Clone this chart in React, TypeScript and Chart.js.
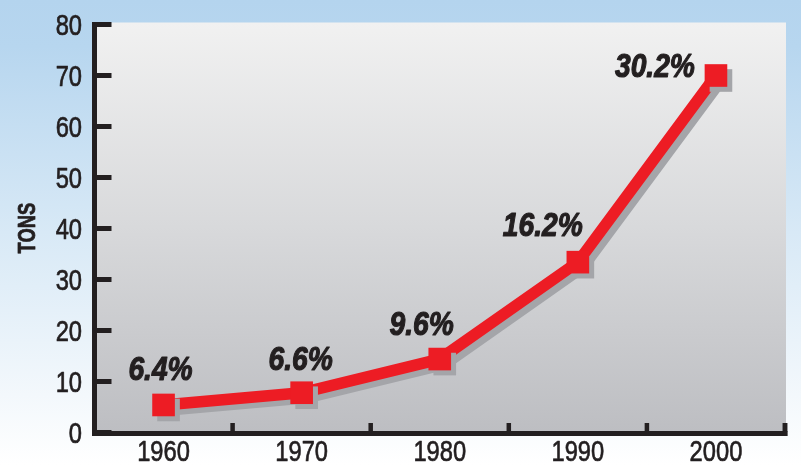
import { useEffect, useRef } from "react";
import { Chart, registerables } from "chart.js";

Chart.register(...registerables);

// Decades along the bottom axis
const years = ["1960", "1970", "1980", "1990", "2000"];
// Tonnage per decade
const tons = [5.4, 7.8, 14.4, 33.4, 70];
// Share annotations printed next to each point
const shareLabels = ["6.4%", "6.6%", "9.6%", "16.2%", "30.2%"];
// Vertical axis range
const yMin = 0;
const yMax = 80;
const yStep = 10;

const INK = "#231F20";
const RED = "#ED1C24";
const FACE = "'Liberation Sans', Arial, sans-serif";

// Where each share annotation sits relative to its point (glyph centre offset)
const LABEL_NUDGE: { dx: number; dy: number; align: CanvasTextAlign }[] = [
  { dx: -3, dy: -37, align: "center" },
  { dx: -1, dy: -35, align: "center" },
  { dx: -18, dy: -36, align: "center" },
  { dx: -35, dy: -38, align: "center" },
  { dx: -21, dy: -11, align: "right" },
];

// Condensed lettering: a normal face squeezed horizontally, placed by its cap-height centre,
// with an optional outline in the same ink to make it heavier
function squeezedText(
  ctx: CanvasRenderingContext2D,
  text: string,
  x: number,
  cy: number,
  style: string,
  size: number,
  sx: number,
  align: CanvasTextAlign,
  weight = 0
) {
  ctx.save();
  ctx.translate(x, cy + 0.358 * size);
  ctx.scale(sx, 1);
  ctx.font = `${style} ${size}px ${FACE}`;
  ctx.textAlign = align;
  ctx.textBaseline = "alphabetic";
  ctx.fillStyle = INK;
  ctx.fillText(text, 0, 0);
  if (weight > 0) {
    ctx.strokeStyle = INK;
    ctx.lineWidth = weight;
    ctx.lineJoin = "round";
    ctx.strokeText(text, 0, 0);
  }
  ctx.restore();
}

const backdrop = {
  id: "backdrop",
  beforeDraw(chart: Chart) {
    const { ctx, width, height, chartArea: a } = chart;
    ctx.save();
    const sky = ctx.createLinearGradient(0, 0, 0, height);
    sky.addColorStop(0, "#B4D4EE");
    sky.addColorStop(0.1, "#B7D6EF");
    sky.addColorStop(0.5, "#D8E9F6");
    sky.addColorStop(0.85, "#F3F8FC");
    sky.addColorStop(1, "#FFFFFF");
    ctx.fillStyle = sky;
    ctx.fillRect(0, 0, width, height);

    const top = a.top - 2;
    const bottom = a.bottom - 1;
    const panel = ctx.createLinearGradient(0, top, 0, bottom);
    panel.addColorStop(0, "#F1F1F1");
    panel.addColorStop(0.5, "#D8D9DB");
    panel.addColorStop(1, "#BDBEC2");
    ctx.fillStyle = panel;
    ctx.fillRect(a.left, top, a.right + 1 - a.left, bottom - top);
    ctx.restore();
  },
};

const frame = {
  id: "frame",
  beforeDatasetsDraw(chart: Chart) {
    const { ctx, chartArea: a } = chart;
    const xs = chart.scales.x;
    const ys = chart.scales.y;
    ctx.save();
    ctx.fillStyle = INK;
    const topY = ys.getPixelForValue(yMax) - 2.5;
    const axisX = a.left;
    // vertical axis line
    ctx.fillRect(axisX - 2.5, topY, 5, a.bottom + 3.5 - topY);
    // inward value ticks and their labels
    ys.ticks.forEach((t, i) => {
      const py = ys.getPixelForTick(i);
      ctx.fillStyle = INK;
      ctx.fillRect(axisX, py - 2.5, 17, 5);
      squeezedText(ctx, String(t.label), axisX - 12.5, py, "normal", 30, 0.79, "right", 0.7);
    });
    ctx.fillStyle = INK;
    // horizontal axis line
    ctx.fillRect(axisX - 2.5, a.bottom - 1.5, a.right + 2.5 - (axisX - 2.5), 5);
    // upward ticks between categories
    years.forEach((_y, i) => {
      const px = xs.getPixelForValue(i + 0.5);
      ctx.fillRect(px - 2.25, a.bottom - 9.5, 4.5, 9);
    });
    ctx.fillRect(a.right - 2.25, a.bottom - 9.5, 4.5, 13);
    // category labels
    xs.ticks.forEach((t, i) => {
      const px = xs.getPixelForTick(i);
      squeezedText(ctx, String(t.label), px, a.bottom + 17.5, "normal", 30, 0.79, "center", 0.7);
    });

    // axis title
    ctx.save();
    ctx.translate(27, 228);
    ctx.rotate(-Math.PI / 2);
    squeezedText(ctx, "TONS", 0, 0, "bold", 23, 0.8, "center", 0.8);
    ctx.restore();
    ctx.restore();
  },
};

const dropShadow = {
  id: "dropShadow",
  beforeDatasetDraw(chart: Chart) {
    const { ctx } = chart;
    ctx.save();
    ctx.shadowColor = "#A4A5A9";
    ctx.shadowOffsetX = 5;
    ctx.shadowOffsetY = 5;
    ctx.shadowBlur = 0;
  },
  afterDatasetDraw(chart: Chart) {
    chart.ctx.restore();
  },
};

const shareTags = {
  id: "shareTags",
  afterDatasetsDraw(chart: Chart) {
    const { ctx } = chart;
    const meta = chart.getDatasetMeta(0);
    meta.data.forEach((pt, i) => {
      const n = LABEL_NUDGE[i];
      squeezedText(ctx, shareLabels[i], pt.x + n.dx, pt.y + n.dy, "italic bold", 34, 0.83, n.align, 1.2);
    });
  },
};

export default function App() {
  const canvasRef = useRef<HTMLCanvasElement | null>(null);

  useEffect(() => {
    const canvas = canvasRef.current;
    if (!canvas) return;
    const chart = new Chart(canvas, {
      type: "line",
      data: {
        labels: years,
        datasets: [
          {
            data: tons,
            borderColor: RED,
            backgroundColor: RED,
            borderWidth: 11.5,
            borderJoinStyle: "miter",
            pointStyle: "rect",
            pointRadius: 16,
            pointHoverRadius: 16,
            pointBackgroundColor: RED,
            pointBorderWidth: 0,
            tension: 0,
            clip: false,
          },
        ],
      },
      options: {
        responsive: false,
        animation: false,
        devicePixelRatio: 1,
        layout: { padding: { top: 24.5, right: 10, bottom: 0, left: 0 } },
        plugins: {
          legend: { display: false },
          tooltip: { enabled: false },
          title: { display: false },
        },
        scales: {
          x: {
            type: "category",
            offset: true,
            grid: { display: false, drawTicks: false },
            border: { display: false },
            ticks: { display: false, autoSkip: false },
            afterFit(scale: any) {
              scale.height = 32.5;
            },
          },
          y: {
            min: yMin,
            max: yMax,
            grid: { display: false, drawTicks: false },
            border: { display: false },
            ticks: { display: false, stepSize: yStep },
            afterFit(scale: any) {
              scale.width = 94.5;
            },
          },
        },
      },
      plugins: [backdrop, frame, dropShadow, shareTags],
    });
    return () => chart.destroy();
  }, []);

  return (
    <div style={{ position: "absolute", left: 0, top: 0, width: 801, height: 465 }}>
      <canvas ref={canvasRef} width={801} height={465} style={{ display: "block" }} />
    </div>
  );
}
